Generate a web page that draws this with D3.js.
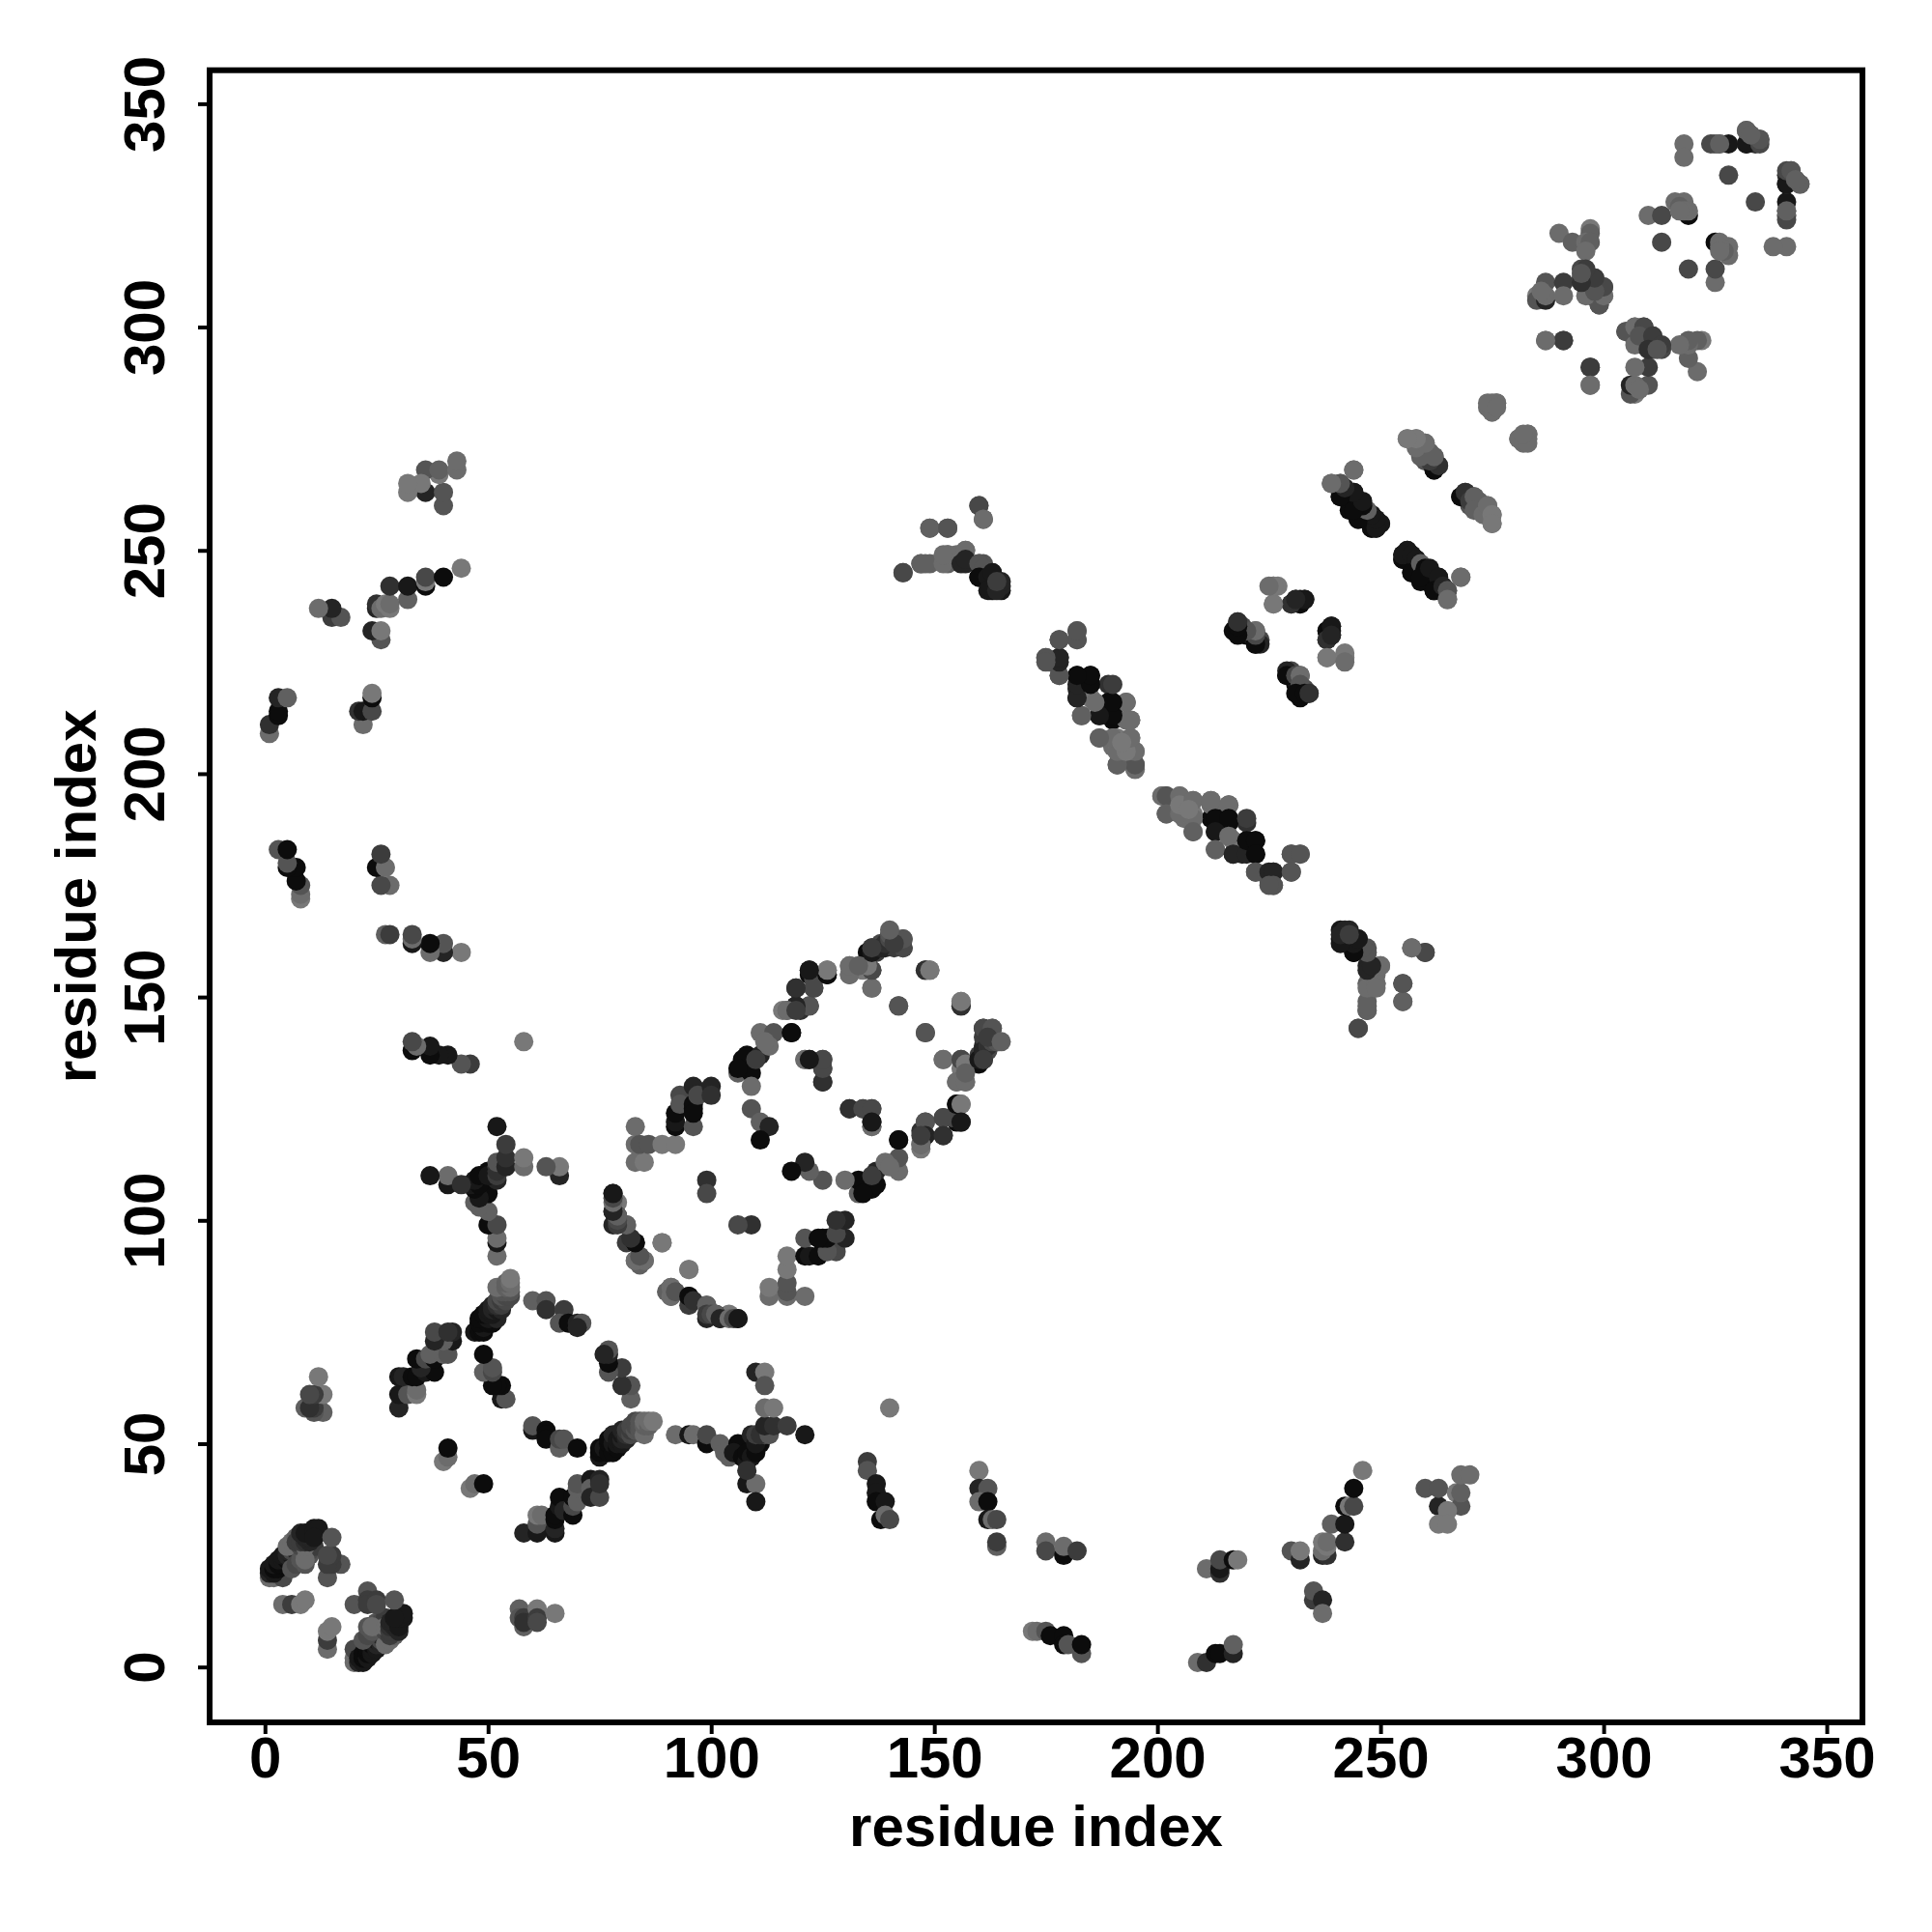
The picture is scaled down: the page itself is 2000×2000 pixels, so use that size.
<!DOCTYPE html>
<html>
<head>
<meta charset="utf-8">
<script src="https://cdnjs.cloudflare.com/ajax/libs/d3/7.8.5/d3.min.js"></script>
<style>html,body{margin:0;padding:0;background:#fff}svg{display:block}</style>
</head>
<body>
<svg id="chart" width="2000" height="2000"></svg>
<script>
// Each contact: [residue a, residue b, strength 0 (weak) .. 9 (strong)]; the map is symmetric.
const tickValues = [0, 50, 100, 150, 200, 250, 300, 350];
const axisTitle = "residue index";

const nTerminalContacts = [
  [20,1,1],[20,2,1],[20,4,4],[21,1,7],[21,2,8],[22,1,8],[22,2,9],[22,3,9],[23,2,8],[23,3,9],[23,4,9],
  [24,3,8],[24,4,8],[24,5,9],[25,4,8],[25,5,7],[25,6,8],[26,5,7],[26,6,4],[26,7,7],[27,6,6],[27,7,3],
  [27,5,1],[28,6,1],[29,7,2],[22,6,3],[23,7,4],[24,8,3],[25,9,2],[25,10,3],[26,10,4],[27,11,5],
  [27,8,4],[28,7,5],[23,9,3],[24,9,1],[27,9,1],[28,8,5],[28,9,6],[28,10,7],[29,9,7],[29,10,7],[30,10,8],
  [30,8,7],[30,9,8],[31,11,8],[30,11,8],[30,12,9],[31,12,8],[29,11,8],
  [20,14,3],[23,17,3],[23,15,5],[23,14,5],[25,15,5],[25,14,4],[29,15,3],[14,4,1],[14,6,5],[14,8,0],[15,9,0]
];
const shortRangeContacts = [
  [57,13,2],[57,11,3],[58,9,2],[58,11,5],[58,10,6],[61,13,0],[61,11,5],[61,10,4],[65,12,0],
  [46,40,0],[47,41,1],[49,41,9],
  [58,30,7],[61,30,8],[61,32,3],[61,34,0],[62,34,1],[65,30,8],[65,31,7],[65,33,9],[65,34,9],[66,36,8],
  [66,38,9],[67,35,7],[69,34,9],[69,36,4],[69,38,9],[70,37,2],[70,40,2],[70,41,3],[73,42,8],[73,40,2],
  [73,38,7],[75,42,7],[75,38,4],[75,41,6]
];
const helixJunctionContacts = [
  [75,47,8],[75,48,9],[75,49,9],[76,49,8],[77,48,9],[77,50,9],[77,51,9],[78,48,9],[78,50,8],[78,52,7],[79,49,9],[79,50,8],
  [79,51,8],[80,50,8],[80,51,7],[80,52,8],[80,53,7],[81,51,7],[81,52,6],[81,53,5],[82,52,4],[82,53,5],[82,54,4],[83,53,3],[83,54,4],[83,55,4],
  [84,53,3],[84,54,3],[84,55,3],[85,52,1],[85,54,2],[85,55,1],[86,54,2],[86,55,1],[87,55,0],
  [60,53,8],[60,54,3],[63,53,9],[63,52,9],[63,51,9],[66,49,2],[66,51,4],[67,51,3],[70,49,9],
  [82,60,2],[82,63,3],[80,63,6],[80,67,5],[77,66,3],[77,68,9],[77,70,7],[77,71,3],[76,70,7]
];
const midRangeContacts = [
  [92,52,1],[95,52,8],[96,52,1],[99,50,9],[99,52,4],[102,50,2],[103,48,2],[104,47,2],[106,50,9],[105,48,8],
  [107,47,9],[108,46,8],[108,48,9],[109,47,8],[110,48,9],[111,50,9],[109,52,7],[110,50,8],[110,52,5],[112,52,4],[111,52,6],[113,53,5],[113,52,3],[112,54,7],[114,54,6],
  [117,54,5],[121,52,8],[110,66,7],[112,66,0],[112,63,3],[112,58,1],[114,58,0],[108,41,8],[110,41,1],
  [110,37,8],[108,44,6],[140,58,0],
  [135,46,5],[135,44,3],[137,41,8],[137,39,8],[137,37,9],[139,37,8],[138,33,9],[139,34,1],[140,33,4],
  [160,44,0],[160,40,7],[162,40,3],[160,37,1],[162,37,9],[162,33,8],[163,33,1],[164,33,4],[164,27,2],[164,28,5],
  [175,28,1],[175,26,4],[179,25,9],[179,27,1],[182,26,5],
  [172,8,0],[173,8,1],[175,8,3],[176,7,9],[179,7,9],[179,5,9],[180,5,3],[183,3,3],[183,5,9],
  [211,22,1],[214,21,6],[214,22,8],[214,24,4],[217,24,9],[218,24,0],
  [209,1,1],[211,1,6],[213,3,9],[214,3,9],[217,3,7],[217,5,2],
  [230,26,3],[232,24,7],[232,26,0],[237,25,7],[238,25,6],[237,26,1],[238,27,0],[237,28,0],[238,28,1],[239,32,2],[242,28,6],[242,32,8],
  [242,36,9],[243,36,0],[244,36,4],[244,40,9],[246,44,0],
  [235,15,5],[235,17,3],[237,15,7],[237,12,1],
  [260,40,3],[263,36,7],[263,40,3],[267,39,0],[268,36,3],[268,39,2],[265,35,0],[263,32,0],[265,32,0],[268,43,1],[270,43,1]
];
const barrelContacts = [
  [83,121,1],[83,117,1],[83,113,1],[85,113,0],[84,117,3],[86,117,3],[89,117,0],[92,117,0],
  [92,121,9],[92,122,8],[92,124,9],[93,128,4],[93,126,3],[96,121,3],[96,125,9],[96,126,9],[96,124,9],[96,130,7],[97,128,4],
  [100,130,7],[100,128,6],
  [106,133,2],[107,136,9],[108,134,9],[108,137,9],[109,133,9],[106,134,9],[111,137,7],[110,136,5],[109,130,1],[111,142,1],[114,142,3],
  [113,139,1],[112,140,1],[118,142,9],[116,147,0],[117,147,2],[119,148,7],[120,147,6],[122,148,3],[119,152,7],[123,152,3],
  [122,155,9],[122,156,7],[123,154,4],[126,155,9],[126,156,1],[131,157,0],[131,155,1],[134,156,0],[136,156,4],[136,152,0],
  [135,160,9],[136,161,7],[137,160,5],[138,162,4],[139,161,7],[140,164,4],[141,161,5],[143,163,3],[143,161,6],[142,148,3],
  [148,156,6],[149,156,1],[156,148,6],[156,149,0],
  [148,142,3],[152,136,1],[109,125,3],[111,122,2],[113,121,7],[111,118,9],[121,136,1],[122,136,8],[125,136,4],[125,134,4],[125,131,7],
  [131,125,6],[134,125,4],[136,121,1],[136,125,4],[136,122,8],
  [142,118,9],[148,122,3],[148,119,7],[147,117,1],[147,119,5],[152,123,4],[152,119,6],[155,126,9],[156,126,0],[156,122,8],
  [156,136,4],[157,135,0],[155,131,1],[157,131,1],[157,133,2],
  [160,136,8],[161,138,7],[162,139,6],[163,140,4],[161,143,4],[163,143,3],[164,140,3],[162,141,5],[161,136,5],[165,140,2],
  [99,109,6],[99,106,4],
  [78,106,7],[79,104,0],[79,101,9],[78,99,7],[78,102,8],[81,99,3],[81,95,5],[83,95,9],[83,91,1],[85,91,1],[84,90,2],[89,95,0],
  [91,85,1],[91,83,1],[92,84,3],[95,83,9],[95,89,0],[96,82,6],[99,81,2],[99,79,5],[100,79,4],[101,79,2],[102,78,7],[104,78,1],[105,78,4],[106,78,8]
];
const sheetContacts = [
  [182,232,1],[182,230,3],[178,230,3],[175,226,2],[176,225,3],[178,226,7],[178,222,3],[182,222,8],[183,221,9],[185,222,8],[185,220,9],
  [189,220,6],[182,219,7],[182,217,9],[185,217,1],[186,216,1],[183,213,2],[189,216,9],[190,214,9],[190,212,9],[187,213,7],
  [193,216,2],[193,212,1],[194,212,1],[187,208,1],[190,208,0],[191,208,0],[194,208,1],[190,206,1],[191,205,0],[195,205,1],[194,206,1],
  [191,202,2],[195,202,5],[195,201,1],
  [201,195,1],[202,195,3],[202,191,2],[205,195,1],[205,191,1],[205,193,0],[208,194,1],[208,190,1],[207,192,0],[208,187,2],[212,194,1],[216,193,1],
  [213,190,9],[216,190,9],[220,190,5],[213,187,8],[213,183,2],[217,185,0],[216,186,1],[217,182,7],[220,182,7],[220,185,9],[222,185,9],[222,182,9],
  [222,178,3],[225,178,7],[226,178,7],[226,175,3],[225,175,3],[230,182,3],[232,182,3],[230,178,3],
  [241,165,8],[242,165,7],[241,163,9],[243,162,9],[245,163,8],[244,160,9],[246,161,7],[247,161,3],[247,160,4],[247,157,7],[250,157,2],[249,155,1],
  [249,153,1],[247,153,2],[255,153,3],[257,161,2],[260,160,4],[255,149,2],[247,149,2],[245,143,4],[247,147,2],
  [143,245,4],[149,255,2],[153,255,3],[160,260,4],[161,257,1],[147,247,2],[148,247,2],[152,247,1],[153,249,1],[152,249,1],[157,250,1],
  [156,247,7],[157,248,7],[160,247,3],[161,246,3],[160,244,9],[162,244,8],[163,245,8],[162,241,8],[164,241,7],[165,243,7],[164,243,5]
];
const betaLadderContacts = [
  [226,242,0],[227,242,0],[226,238,1],[230,238,7],[231,239,8],[232,238,9],[232,239,9],[233,239,8],
  [218,234,6],[217,232,9],[219,233,4],[220,231,9],[221,231,8],[222,229,9],[222,232,2],[223,230,4],
  [238,232,9],[239,233,8],[238,230,6],[239,231,7],[238,226,0],[242,226,0],[242,225,1],
  [229,223,7],[229,222,9],[231,222,4],[232,222,1],[232,220,3],[231,218,9],[233,218,9],[234,218,6],
  [239,265,2],[241,265,2],[244,268,1],[241,262,9],[242,263,3],[243,263,2],[244,263,7],[243,259,9],[245,261,9],
  [246,260,9],[245,257,9],[247,258,9],[248,258,8],[248,255,9],[249,255,9],[249,256,1],[250,256,8],
  [256,250,8],[255,248,9],[255,249,8],[257,249,8],[258,248,8],[257,245,9],[259,247,2],[260,246,9],[259,244,9],[261,246,8],
  [263,244,8],[262,241,9],[264,242,7],[265,241,3],[265,239,1],[268,244,1],
  [256,275,0],[258,275,1],[259,272,1],[260,274,1],[260,270,3],[261,272,2],[262,268,9],[262,271,2],[263,269,4],
  [268,262,9],[269,263,6],[270,261,5],[271,262,2],[271,259,2],[273,258,1],[274,260,1],[275,258,0],[275,256,0],
  [275,283,1],[274,282,1],[276,283,1],[275,281,1],[283,276,1],[281,275,1],[283,274,1],[282,276,1]
];
const cTerminalContacts = [
  [290,321,1],[293,319,2],[297,322,0],[297,321,2],[296,319,1],[297,319,2],[296,317,1],
  [285,307,0],[285,306,3],[287,306,7],[287,310,3],[287,307,1],[286,308,1],[291,310,5],[291,307,1],
  [295,313,4],[295,311,5],[297,309,5],[297,311,4],[296,312,4],[298,311,5],[297,307,1],[300,309,4],[299,305,4],[300,307,1],[299,307,2],
  [287,297,1],[291,297,5],[297,291,5],[297,287,1],
  [305,299,3],[307,300,1],[309,300,4],[307,296,1],[308,298,3],[311,298,5],[310,295,6],[313,296,5],[312,295,3],
  [310,325,1],[313,325,4],[319,325,9],[316,328,1],[318,328,1],[317,327,2],[319,326,1],[318,326,1],[317,326,1],[313,319,4],
  [318,341,1],[318,338,1],[325,341,3],[326,341,0],[328,341,8],[332,341,5],[334,341,6],[333,343,4],[332,344,2],[335,342,3],
  [328,334,4],[341,332,8],[341,335,4],[342,335,3],[344,332,2],[343,333,2],
  [341,325,1],[341,324,4],[341,326,2]
];

const contacts = [].concat(nTerminalContacts, shortRangeContacts, helixJunctionContacts, midRangeContacts,
  barrelContacts, sheetContacts, betaLadderContacts, cTerminalContacts);

const svg = d3.select("#chart");
const frame = {left: 217, right: 1928, top: 72.7, bottom: 1783};
const x = d3.scaleLinear().domain([-12.4, 358]).range([frame.left, frame.right]);
const y = d3.scaleLinear().domain([-12.4, 357.5]).range([frame.bottom, frame.top]);
const shade = d3.scaleLinear().domain([0, 9]).range(["#787878", "#0c0c0c"]);
const font = "'Liberation Sans', Arial, sans-serif";

const points = contacts.flatMap(([a, b, s]) => [{x: a, y: b, s}, {x: b, y: a, s}]);
svg.append("g").selectAll("circle").data(points).join("circle")
  .attr("cx", d => x(d.x)).attr("cy", d => y(d.y)).attr("r", 10).attr("fill", d => shade(d.s));

svg.append("rect").attr("x", frame.left).attr("y", frame.top)
  .attr("width", frame.right - frame.left).attr("height", frame.bottom - frame.top)
  .attr("fill", "none").attr("stroke", "#000").attr("stroke-width", 6);

const xAxis = svg.append("g").attr("transform", `translate(0,${frame.bottom})`)
  .call(d3.axisBottom(x).tickValues(tickValues).tickSize(12).tickPadding(16).tickFormat(d3.format("d")));
const yAxis = svg.append("g").attr("transform", `translate(${frame.left},0)`)
  .call(d3.axisLeft(y).tickValues(tickValues).tickSize(12).tickFormat(d3.format("d")));
[xAxis, yAxis].forEach(g => {
  g.select(".domain").remove();
  g.selectAll(".tick line").attr("stroke", "#000").attr("stroke-width", 4);
  g.selectAll("text").attr("font-family", font).attr("font-weight", "bold").attr("font-size", 60).attr("fill", "#000");
});
xAxis.selectAll("text").attr("dy", null).attr("y", null).attr("text-anchor", "middle")
  .attr("transform", "translate(0,57)");
yAxis.selectAll("text").attr("x", null).attr("dy", null).attr("text-anchor", "middle")
  .attr("transform", "translate(-47,0) rotate(-90)");

svg.append("text").attr("x", (frame.left + frame.right) / 2).attr("y", 1911)
  .attr("text-anchor", "middle").attr("font-family", font).attr("font-weight", "bold")
  .attr("font-size", 60).text(axisTitle);
svg.append("text").attr("transform", `translate(99,${(frame.top + frame.bottom) / 2}) rotate(-90)`)
  .attr("text-anchor", "middle").attr("font-family", font).attr("font-weight", "bold")
  .attr("font-size", 60).text(axisTitle);
</script>
</body>
</html>
